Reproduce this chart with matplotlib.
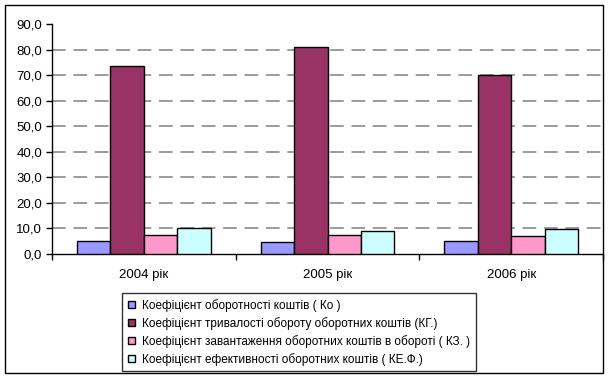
import numpy as np
import matplotlib.pyplot as plt
from matplotlib.patches import Rectangle

plt.rcParams['font.family'] = ['Liberation Sans', 'DejaVu Sans']

years = ['2004 рік', '2005 рік', '2006 рік']
series_names = [
    'Коефіцієнт оборотності коштів ( Ко )',
    'Коефіцієнт тривалості обороту оборотних коштів (КГ.)',
    'Коефіцієнт завантаження оборотних коштів в обороті ( КЗ. )',
    'Коефіцієнт ефективності оборотних коштів ( КЕ.Ф.)',
]
ko = [5.0, 4.6, 5.0]
kg = [73.7, 81.0, 70.0]
kz = [7.6, 7.6, 6.9]
kef = [10.0, 9.0, 9.9]
colors = ['#9999FF', '#993366', '#FF99CC', '#CCFFFF']

fig = plt.figure(figsize=(6.1, 3.8), dpi=100)
ax = fig.add_axes([52 / 610, 1 - 254 / 380, (603 - 52) / 610, (254 - 24) / 380])

x = np.arange(len(years))
w = 0.182
for i, (vals, name) in enumerate(zip([ko, kg, kz, kef], series_names)):
    ax.bar(x + (i - 1.5) * w, vals, w, color=colors[i], edgecolor='black',
           linewidth=1, label=name, zorder=3)

ax.set_xlim(-0.5, 2.5)
ax.set_ylim(0, 90)
ax.set_yticks(np.arange(0, 91, 10))
ax.set_yticklabels([f'{v:.1f}'.replace('.', ',') for v in range(0, 91, 10)])
for v in range(10, 90, 10):
    ax.axhline(v, color='#808080', lw=1.1, dashes=(9, 5), zorder=1)

ax.set_xticks(x)
ax.set_xticklabels(years)
ax.set_xticks([-0.5, 0.5, 1.5, 2.5], minor=True)
ax.tick_params(axis='x', which='major', length=0, pad=11, labelsize=9.5)
ax.tick_params(axis='x', which='minor', length=4, width=1, direction='out')
ax.tick_params(axis='y', length=4, width=1, labelsize=9.5, pad=3)
for s in ['top', 'right']:
    ax.spines[s].set_visible(False)
for s in ['left', 'bottom']:
    ax.spines[s].set_linewidth(1)

leg = fig.legend(loc='upper left', bbox_to_anchor=(122 / 610, 1 - 293 / 380),
                 fontsize=8.5, frameon=True, fancybox=False, edgecolor='black',
                 handlelength=0.6, handleheight=0.6, handletextpad=0.6,
                 labelspacing=0.42, borderpad=0.5, borderaxespad=0)
leg.get_frame().set_linewidth(1)

fig.patches.append(Rectangle((5 / 610, 1 - 373 / 380), 598 / 610, 368 / 380,
                             transform=fig.transFigure, fill=False,
                             edgecolor='black', lw=1))

fig.savefig('out.png', dpi=100)
